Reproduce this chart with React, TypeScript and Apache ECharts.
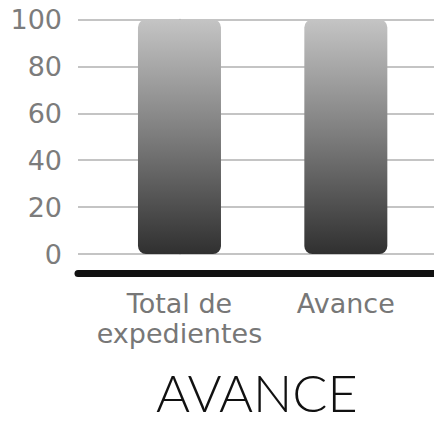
import React, { useEffect, useRef } from "react";
import * as echarts from "echarts";

const categories = ["Total de\nexpedientes", "Avance"];
const values = [100, 100];
const yMin = 0;
const yMax = 100;
const yStep = 20;
const titleText = "AVANCE";

export default function App() {
  const ref = useRef<HTMLDivElement>(null);
  useEffect(() => {
    if (!ref.current) return;
    const chart = echarts.init(ref.current, null, { renderer: "svg" });
    chart.setOption({
      animation: false,
      backgroundColor: "#ffffff",
      title: {
        text: titleText,
        left: 156,
        top: 372,
        padding: 0,
        textStyle: {
          fontFamily: "Lato",
          fontSize: 52,
          lineHeight: 40,
          fontWeight: 300,
          color: "#111111",
        },
      },
      grid: { left: 78, right: 0, top: 19.5, bottom: 171 },
      xAxis: {
        type: "value",
        min: -0.61,
        max: 1.53,
        offset: 19,
        splitLine: { show: false },
        axisTick: { show: false },
        axisLine: { show: true, onZero: false, lineStyle: { color: "#111111", width: 7 } },
        axisLabel: {
          customValues: [0, 1],
          formatter: (v: number) => categories[Math.round(v)] ?? "",
          margin: 15,
          fontFamily: "DejaVu Sans",
          fontSize: 27,
          lineHeight: 30,
          color: "#777777",
          align: "center",
          verticalAlign: "top",
        },
      },
      yAxis: {
        type: "value",
        min: yMin,
        max: yMax,
        interval: yStep,
        axisLine: { show: true, lineStyle: { color: "#aaaaaa", width: 1.5 } },
        axisTick: { show: false },
        splitLine: { lineStyle: { color: "#b0b0b0", width: 1.5 } },
        axisLabel: {
          margin: 16,
          fontFamily: "DejaVu Sans",
          fontSize: 27,
          color: "#7c7c7c",
        },
      },
      series: [
        {
          type: "bar",
          data: values.map((v, i) => [i, v]),
          barWidth: 83,
          itemStyle: {
            borderRadius: 8,
            color: new echarts.graphic.LinearGradient(0, 0, 0, 1, [
              { offset: 0, color: "#c4c4c4" },
              { offset: 0.5, color: "#7c7c7c" },
              { offset: 1, color: "#303030" },
            ]),
          },
        },
      ],
    });
    return () => chart.dispose();
  }, []);
  return (
    <div
      ref={ref}
      style={{ position: "fixed", left: 0, top: 0, width: 434, height: 425 }}
    />
  );
}
